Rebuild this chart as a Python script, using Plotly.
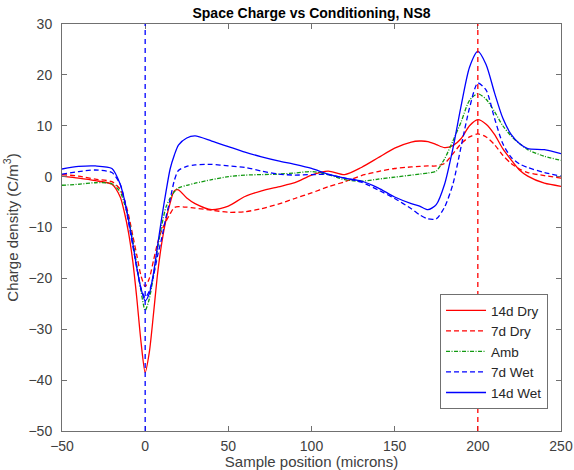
import plotly.graph_objects as go

# ---- data ----
position = [-50, -40, -30, -20, -15, -12.5, -10, -7.5, -5, -2.5, 0, 2.5, 5, 7.5, 10, 12.5, 15, 17.5, 20, 25,
            30, 40, 50, 60, 70, 80, 90, 100, 110, 120, 130, 140, 150, 160, 165, 170, 175, 180, 185, 190,
            195, 200, 205, 210, 215, 220, 225, 230, 240, 250]

dry14 = [0.1, -0.3, -0.8, -1.5, -4.0, -7.0, -11.0, -16.5, -24.0, -32.5, -38.5, -34.5, -27.0, -19.0, -13.0, -8.5, -5.2, -2.8, -2.6, -4.2,
         -5.3, -6.5, -5.8, -3.9, -2.8, -2.0, -1.2, 0.3, 1.1, 0.4, 1.8, 3.7, 5.6, 6.8, 7.0, 6.9, 6.3, 5.7, 6.1, 7.5,
         10.0, 11.2, 10.3, 8.3, 5.5, 3.3, 1.3, 0.1, -1.3, -1.9]

dry7 = [0.4, 0.1, -0.5, -1.0, -2.5, -4.5, -7.5, -11.5, -15.5, -19.5, -21.6, -20.0, -16.5, -13.0, -10.5, -8.8, -7.3, -6.1, -5.9, -6.0,
        -6.2, -6.6, -7.0, -6.9, -6.3, -5.4, -4.3, -3.2, -2.0, -1.0, 0.2, 1.0, 1.6, 1.9, 2.0, 2.1, 2.1, 2.6, 4.5, 6.5,
        7.8, 8.4, 7.8, 6.3, 4.2, 2.6, 1.5, 0.8, 0.2, -0.3]

amb = [-1.7, -1.5, -1.2, -1.4, -3.0, -5.3, -8.2, -12.5, -17.5, -22.5, -26.3, -24.0, -19.5, -14.0, -9.5, -6.0, -4.2, -3.0, -2.2, -1.7,
       -1.3, -0.6, 0.0, 0.3, 0.4, 0.5, 0.7, 1.0, 0.4, -0.6, -0.9, -0.5, -0.1, 0.3, 0.5, 0.7, 1.1, 3.5, 7.0, 10.8,
       15.0, 16.3, 15.2, 12.8, 10.0, 8.0, 6.5, 5.3, 4.0, 3.2]

wet7 = [0.5, 1.0, 1.3, 0.8, -1.5, -4.5, -9.0, -13.5, -18.0, -22.0, -23.8, -22.5, -19.5, -15.5, -12.0, -8.0, -4.5, -0.8, 1.2, 2.0,
        2.3, 2.4, 2.1, 1.8, 1.1, 0.5, 0.3, 0.4, 0.4, -0.3, -1.1, -2.6, -4.3, -6.3, -7.5, -8.3, -8.3, -6.0, -1.5, 6.0,
        13.5, 18.4, 17.0, 11.5, 6.5, 3.8, 2.5, 1.8, 0.8, 0.1]

wet14 = [1.5, 2.0, 2.1, 1.6, -1.5, -4.5, -8.5, -13.0, -18.0, -22.0, -24.4, -23.0, -19.0, -13.5, -8.0, -3.0, 1.5, 4.2, 6.2, 7.6,
         8.0, 7.0, 5.9, 4.8, 3.9, 3.1, 2.4, 1.6, 0.5, -0.3, -0.9, -2.2, -4.0, -5.3, -5.8, -6.5, -5.5, -1.5, 5.5, 14.0,
         21.5, 24.6, 22.0, 16.5, 11.5, 8.3, 6.5, 5.5, 5.3, 4.5]

series_names = ["14d Dry", "7d Dry", "Amb", "7d Wet", "14d Wet"]
interface_positions = [0, 200]

x_ticks = [-50, 0, 50, 100, 150, 200, 250]
y_ticks = [-50, -40, -30, -20, -10, 0, 10, 20, 30]

RED = "#FF0000"
GREEN = "#119911"
BLUE = "#0000FF"
FONT = "Liberation Sans, Arial, sans-serif"

styles = [
    dict(color=RED, dash="solid"),
    dict(color=RED, dash="5px,3px"),
    dict(color=GREEN, dash="4px,1.5px,1px,1.5px"),
    dict(color=BLUE, dash="5px,3px"),
    dict(color=BLUE, dash="solid"),
]

fig = go.Figure()
for name, ys, st in zip(series_names, [dry14, dry7, amb, wet7, wet14], styles):
    fig.add_trace(go.Scatter(
        x=position, y=ys, mode="lines", name=name,
        line=dict(color=st["color"], dash=st["dash"], width=1.3, shape="spline", smoothing=0.7),
    ))

for xv, col in zip(interface_positions, [BLUE, RED]):
    fig.add_shape(type="line", xref="x", yref="paper", x0=xv, x1=xv, y0=0, y1=1,
                  line=dict(color=col, width=1.3, dash="5px,4px"), layer="above")

axis_common = dict(
    showline=True, mirror="allticks", linecolor="#707070", linewidth=1,
    ticks="inside", ticklen=5, tickcolor="#707070", showgrid=False, zeroline=False,
    automargin=False,
    tickfont=dict(family=FONT, size=14, color="#404040"),
)

fig.update_layout(
    width=574, height=470,
    margin=dict(l=62, r=13, t=24, b=39),
    paper_bgcolor="white", plot_bgcolor="white",
    font=dict(family=FONT, color="#262626"),
    title=dict(text="<b>Space Charge vs Conditioning, NS8</b>", x=0.5, xref="paper",
               y=1 - 13 / 470, yref="container", yanchor="middle",
               font=dict(size=14, color="#000000")),
    xaxis=dict(range=[-50, 250], tickvals=x_ticks, ticklabelstandoff=2,
               title=dict(text="Sample position (microns)", standoff=2,
                          font=dict(size=15, color="#404040")),
               **axis_common),
    yaxis=dict(range=[-50, 30], tickvals=y_ticks, ticklabelstandoff=6,
               title=dict(text="Charge density (C/m<sup>3</sup>)", standoff=6,
                          font=dict(size=15, color="#404040")),
               **axis_common),
    legend=dict(x=0.974, y=0.054, xanchor="right", yanchor="bottom",
                bgcolor="white", bordercolor="#707070", borderwidth=1,
                font=dict(size=13.5, color="#262626"), tracegroupgap=0,
                itemwidth=40),
    showlegend=True,
)

fig.write_html("out.html",
               config={"displayModeBar": False},
               post_script="document.body.style.margin='0px';document.body.style.padding='0px';"
                           "document.body.style.overflow='hidden';")
